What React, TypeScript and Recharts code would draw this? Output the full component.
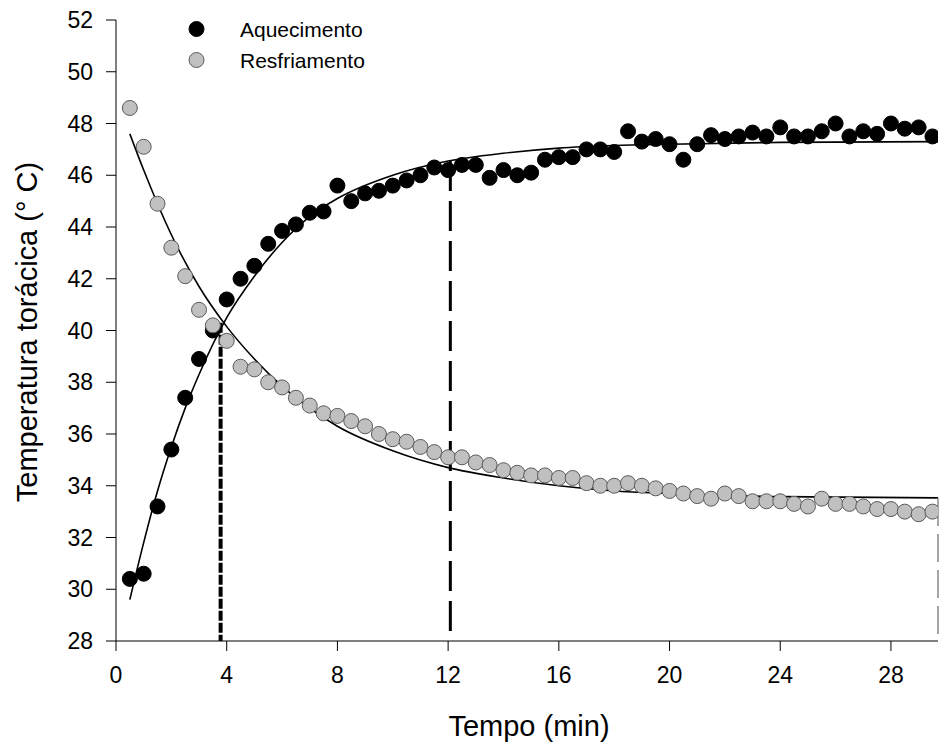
import React from 'react';
import {
  ComposedChart,
  Scatter,
  Line,
  XAxis,
  YAxis,
  ReferenceLine,
  Legend,
  Label,
} from 'recharts';

// Time (min) of the measurements
const tempo: number[] = [
  0.5, 1, 1.5, 2, 2.5, 3, 3.5, 4, 4.5, 5, 5.5, 6, 6.5, 7, 7.5, 8, 8.5, 9, 9.5, 10,
  10.5, 11, 11.5, 12, 12.5, 13, 13.5, 14, 14.5, 15, 15.5, 16, 16.5, 17, 17.5, 18,
  18.5, 19, 19.5, 20, 20.5, 21, 21.5, 22, 22.5, 23, 23.5, 24, 24.5, 25, 25.5, 26,
  26.5, 27, 27.5, 28, 28.5, 29, 29.5,
];

// Aquecimento (heating) observed thoracic temperature
const aquecimento: number[] = [
  30.4, 30.6, 33.2, 35.4, 37.4, 38.9, 40.0, 41.2, 42.0, 42.5, 43.35, 43.85, 44.1, 44.55, 44.6, 45.6,
  45.0, 45.3, 45.4, 45.6, 45.8, 46.0, 46.3, 46.2, 46.4, 46.4, 45.9, 46.2, 46.0, 46.1,
  46.6, 46.7, 46.7, 47.0, 47.0, 46.9, 47.7, 47.3, 47.4, 47.2, 46.6, 47.2, 47.55, 47.4,
  47.5, 47.65, 47.5, 47.85, 47.5, 47.5, 47.7, 48.0, 47.5, 47.7, 47.6, 48.0, 47.8, 47.85, 47.5,
];

// Resfriamento (cooling) observed thoracic temperature
const resfriamento: number[] = [
  48.6, 47.1, 44.9, 43.2, 42.1, 40.8, 40.2, 39.6, 38.6, 38.5, 38.0, 37.8, 37.4, 37.1, 36.8, 36.7,
  36.5, 36.3, 36.0, 35.8, 35.7, 35.5, 35.3, 35.1, 35.1, 34.9, 34.8, 34.6, 34.5, 34.4,
  34.4, 34.3, 34.3, 34.1, 34.0, 34.0, 34.1, 34.0, 33.9, 33.8, 33.7, 33.6, 33.5, 33.7,
  33.6, 33.4, 33.4, 33.4, 33.3, 33.2, 33.5, 33.3, 33.3, 33.2, 33.1, 33.1, 33.0, 32.9, 33.0,
];

// Fitted curve (heating)
const ajusteAqT: number[] = [0.5, 1, 1.5, 2, 2.5, 3, 4, 5, 6, 7, 8, 10, 12, 14, 16, 18, 20, 24, 29.7];
const ajusteAqY: number[] = [29.6, 31.8, 33.8, 35.5, 37.0, 38.3, 40.5, 42.1, 43.4, 44.4, 45.1, 46.0, 46.55, 46.85, 47.05, 47.15, 47.2, 47.27, 47.3];

// Fitted curve (cooling)
const ajusteResT: number[] = [0.5, 1, 1.5, 2, 3, 4, 5, 6, 8, 10, 12, 14, 16, 18, 20, 24, 29.7];
const ajusteResY: number[] = [47.6, 46.2, 44.9, 43.7, 41.7, 40.15, 38.9, 37.85, 36.3, 35.35, 34.7, 34.3, 34.0, 33.8, 33.7, 33.58, 33.53];

// Drop lines (time, top temperature)
const quedaCruz = { t: 3.78, y: 40.3 };
const quedaAq = { t: 12.08, y: 46.55 };
const quedaRes = { t: 29.7, y: 33.53 };

const xTicks: number[] = [0, 4, 8, 12, 16, 20, 24, 28];
const yTicks: number[] = [28, 30, 32, 34, 36, 38, 40, 42, 44, 46, 48, 50, 52];

const serieAq = tempo.map((t, i) => ({ t, y: aquecimento[i] }));
const serieRes = tempo.map((t, i) => ({ t, y: resfriamento[i] }));
const curvaAq = ajusteAqT.map((t, i) => ({ t, y: ajusteAqY[i] }));
const curvaRes = ajusteResT.map((t, i) => ({ t, y: ajusteResY[i] }));

const FONT = "Arial, 'Liberation Sans', sans-serif";

const BlackDot = (p: any) => <circle cx={p.cx} cy={p.cy} r={7.5} fill="#000" stroke="#000" strokeWidth={1} />;
const GrayDot = (p: any) => <circle cx={p.cx} cy={p.cy} r={7.5} fill="#c0c0c0" stroke="#5a5a5a" strokeWidth={1} />;

const LegendContent = () => (
  <svg width={440} height={80} style={{ display: 'block', overflow: 'visible' }}>
    <circle cx={196.5} cy={29} r={7.5} fill="#000" stroke="#000" />
    <text x={240} y={36.5} fontSize={21} fontFamily={FONT} fill="#000">Aquecimento</text>
    <circle cx={196.5} cy={60} r={7.5} fill="#c0c0c0" stroke="#5a5a5a" />
    <text x={240} y={67.5} fontSize={21} fontFamily={FONT} fill="#000">Resfriamento</text>
  </svg>
);

export default function App() {
  return (
    <div style={{ position: 'absolute', left: 0, top: 0, width: 939, height: 745, background: '#fff' }}>
      <ComposedChart
        width={939}
        height={745}
        margin={{ top: 20, right: 1, bottom: 0, left: 0 }}
        style={{ fontFamily: FONT }}
      >
        <XAxis
          type="number"
          dataKey="t"
          domain={[0, 29.7]}
          ticks={xTicks}
          allowDataOverflow
          height={104}
          tickSize={10}
          tickMargin={16}
          axisLine={{ stroke: '#000', strokeWidth: 1 }}
          tickLine={{ stroke: '#000', strokeWidth: 1 }}
          tick={{ fill: '#000', fontSize: 23, fontFamily: FONT }}
          label={
            <Label
              content={() => (
                <text x={529} y={736} textAnchor="middle" fontSize={29} fontFamily={FONT} fill="#000">
                  Tempo (min)
                </text>
              )}
            />
          }
        />
        <YAxis
          type="number"
          dataKey="y"
          domain={[28, 52]}
          ticks={yTicks}
          allowDataOverflow
          width={116}
          tickSize={10}
          tickMargin={13}
          axisLine={{ stroke: '#000', strokeWidth: 1 }}
          tickLine={{ stroke: '#000', strokeWidth: 1 }}
          tick={{ fill: '#000', fontSize: 23, fontFamily: FONT }}
          label={
            <Label
              content={() => (
                <text
                  x={37}
                  y={332}
                  textAnchor="middle"
                  fontSize={29}
                  fontFamily={FONT}
                  fill="#000"
                  transform="rotate(-90, 37, 332)"
                >
                  Temperatura torácica (° C)
                </text>
              )}
            />
          }
        />
        <Legend
          layout="horizontal"
          verticalAlign="middle"
          align="center"
          content={LegendContent}
          wrapperStyle={{ position: 'absolute', left: 0, top: 0, width: 440, height: 80 }}
        />
        <Scatter name="Aquecimento" data={serieAq} dataKey="y" shape={BlackDot} isAnimationActive={false} />
        <Scatter name="Resfriamento" data={serieRes} dataKey="y" shape={GrayDot} isAnimationActive={false} />
        <Line
          data={curvaAq}
          dataKey="y"
          type="monotone"
          stroke="#000"
          strokeWidth={1.6}
          dot={false}
          activeDot={false}
          legendType="none"
          isAnimationActive={false}
        />
        <Line
          data={curvaRes}
          dataKey="y"
          type="monotone"
          stroke="#000"
          strokeWidth={1.6}
          dot={false}
          activeDot={false}
          legendType="none"
          isAnimationActive={false}
        />
        <ReferenceLine
          segment={[{ x: quedaCruz.t, y: quedaCruz.y }, { x: quedaCruz.t, y: 28 }]}
          stroke="#000"
          strokeWidth={4}
          strokeDasharray="10 2"
        />
        <ReferenceLine
          segment={[{ x: quedaAq.t, y: quedaAq.y }, { x: quedaAq.t, y: 28 }]}
          stroke="#000"
          strokeWidth={3}
          strokeDasharray="30 10"
        />
        <ReferenceLine
          segment={[{ x: quedaRes.t, y: quedaRes.y }, { x: quedaRes.t, y: 28 }]}
          stroke="#888"
          strokeWidth={1.5}
          strokeDasharray="28 8"
        />
      </ComposedChart>
    </div>
  );
}
